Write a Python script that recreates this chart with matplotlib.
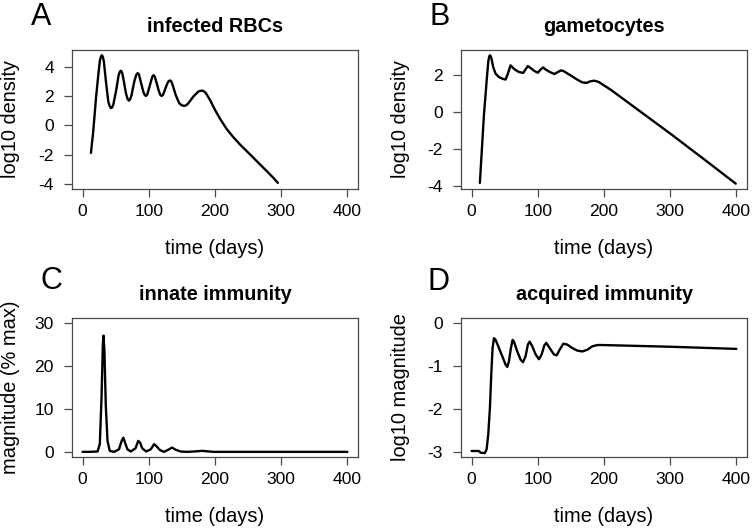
import matplotlib
matplotlib.use("Agg")
import matplotlib.pyplot as plt

plt.rcParams['font.family'] = ['Liberation Sans', 'DejaVu Sans']

# ---- Data ----
rbc_days = [12.6, 16.1, 20.2, 23.7, 26.2, 27.8, 29.2, 30.6, 32.2, 35.3, 38.8, 41.0, 42.8, 44.5,
            46.3, 50.4, 54.4, 56.5, 58.0, 59.6, 61.5, 65.5, 68.0, 70.0, 72.0, 74.0, 78.0, 81.0,
            83.1, 85.0, 87.2, 91.7, 93.8, 95.7, 97.6, 99.7, 103.8, 105.6, 107.3, 109.2, 111.3,
            115.4, 117.4, 119.4, 121.4, 123.4, 128.0, 130.0, 132.0, 134.0, 136.0, 140.6, 146.0,
            149.5, 153.0, 156.5, 159.7, 167.3, 174.8, 178.0, 181.4, 184.0, 186.4, 192.4, 200.0,
            207.6, 217.6, 227.7, 237.8, 247.9, 257.9, 268.0, 278.0, 288.0, 295.0]
rbc_vals = [-1.88, -0.41, 1.85, 3.44, 4.45, 4.72, 4.79, 4.68, 4.34, 2.98, 1.63, 1.30, 1.18, 1.22,
            1.40, 2.31, 3.43, 3.68, 3.73, 3.62, 3.21, 2.19, 1.80, 1.69, 1.80, 2.08, 2.98, 3.45,
            3.57, 3.50, 3.10, 2.30, 2.08, 2.01, 2.10, 2.42, 3.10, 3.35, 3.43, 3.32, 2.98,
            2.31, 2.08, 2.01, 2.08, 2.31, 2.87, 3.02, 3.07, 3.00, 2.76, 2.08, 1.51,
            1.38, 1.33, 1.37, 1.51, 1.97, 2.31, 2.36, 2.37, 2.30, 2.19, 1.74, 1.06,
            0.45, -0.25, -0.81, -1.31, -1.76, -2.21, -2.67, -3.12, -3.58, -3.93]

gam_days = [12.5, 18.6, 22.6, 25.1, 26.5, 27.6, 28.8, 30.1, 32.6, 36.2, 41.2, 46.2, 51.3, 54.8,
            58.8, 61.3, 64.9, 71.4, 78.0, 81.5, 85.0, 89.0, 95.0, 100.1, 104.1, 108.1, 111.6,
            118.2, 125.2, 130.3, 135.3, 139.3, 149.4, 159.4, 167.0, 173.5, 179.6, 185.6, 192.1,
            199.7, 209.8, 250.0, 300.0, 350.0, 399.0]
gam_vals = [-3.84, -0.18, 1.62, 2.70, 2.98, 3.06, 3.02, 2.88, 2.43, 2.07, 1.89, 1.80, 1.75, 2.07,
            2.52, 2.43, 2.30, 2.16, 2.11, 2.30, 2.48, 2.38, 2.21, 2.12, 2.29, 2.41, 2.30,
            2.16, 2.05, 2.16, 2.25, 2.20, 1.98, 1.75, 1.60, 1.57, 1.66, 1.69, 1.62,
            1.44, 1.21, 0.15, -1.17, -2.53, -3.88]

inn_days = [0, 10, 22.6, 26.0, 28.6, 30.6, 31.6, 33.0, 35.0, 37.6, 41.0, 47.6, 55.0, 59.0, 61.6,
            64.0, 67.7, 72.7, 80.0, 84.0, 86.7, 90.0, 96.0, 103.0, 108.0, 111.0, 117.0, 123.0,
            130.0, 135.0, 140.0, 148.0, 158.0, 170.0, 180.0, 190.0, 198.0, 300.0, 400.0]
inn_vals = [0, 0, 0.08, 1.8, 12.6, 25.0, 27.1, 23.4, 11.0, 2.6, 0.23, 0, 0.6, 2.55, 3.3,
            2.2, 0.6, 0.08, 0.85, 2.55, 2.2, 0.85, 0.08, 0.6, 1.8, 1.4, 0.4, 0,
            0.54, 1.0, 0.54, 0.08, 0, 0.1, 0.23, 0.1, 0, 0, 0]

acq_days = [0, 11.0, 13.6, 20.0, 22.7, 25.2, 27.7, 29.7, 31.7, 33.8, 36.3, 41.3, 46.3, 51.4, 53.9,
            56.4, 59.4, 62.0, 64.0, 69.0, 74.0, 77.6, 81.6, 85.0, 87.7, 91.7, 96.7, 101.8,
            105.8, 109.8, 112.8, 117.9, 124.4, 128.5, 133.0, 138.5, 144.6, 152.1, 159.7,
            167.3, 174.8, 182.4, 190.0, 197.5, 300.0, 400.0]
acq_vals = [-2.98, -2.98, -3.02, -3.03, -2.94, -2.59, -1.97, -1.20, -0.58, -0.35, -0.39, -0.58,
            -0.77, -0.97, -1.02, -0.89, -0.58, -0.39, -0.43, -0.66, -0.85, -0.91, -0.77, -0.50,
            -0.43, -0.54, -0.73, -0.84, -0.73, -0.52, -0.46, -0.58, -0.73, -0.75, -0.62,
            -0.48, -0.50, -0.58, -0.64, -0.66, -0.62, -0.54, -0.51, -0.51, -0.55, -0.60]

titles = ["infected RBCs", "gametocytes", "innate immunity", "acquired immunity"]
ylabels = ["log10 density", "log10 density", "magnitude (% max)", "log10 magnitude"]
letters = ["A", "B", "C", "D"]
xticks = [0, 100, 200, 300, 400]
yticks_list = [[-4, -2, 0, 2, 4], [-4, -2, 0, 2], [0, 10, 20, 30], [-3, -2, -1, 0]]
ylims = [(-4.35, 5.15), (-4.17, 3.35), (-1.2, 31.2), (-3.12, 0.12)]

series = [(rbc_days, rbc_vals), (gam_days, gam_vals), (inn_days, inn_vals), (acq_days, acq_vals)]

W, H = 754, 529
fig = plt.figure(figsize=(W / 100, H / 100), dpi=100)

# axes pixel boxes (left, top, right, bottom)
boxes = [(72, 50, 358, 189), (461, 50, 747, 189), (72, 318, 358, 457), (461, 318, 747, 457)]
letter_pos = [(31, 25), (429, 25), (41, 289), (428, 290)]

spine_col = '#4a4a4a'
for i in range(4):
    l, t, r, b = boxes[i]
    ax = fig.add_axes([l / W, 1 - b / H, (r - l) / W, (b - t) / H])
    x, y = series[i]
    ax.plot(x, y, color='black', lw=1.7, solid_joinstyle='round', solid_capstyle='round')
    ax.set_xlim(-16, 416)
    ax.set_ylim(*ylims[i])
    ax.set_xticks(xticks)
    ax.set_yticks(yticks_list[i])
    ax.set_xticklabels([str(v) for v in xticks])
    ax.set_yticklabels([str(v) for v in yticks_list[i]])
    for s in ax.spines.values():
        s.set_color(spine_col)
        s.set_linewidth(0.9)
    ax.tick_params(axis='both', direction='out', length=6, width=0.9, color=spine_col,
                   labelsize=12.6, labelcolor='black')
    ax.tick_params(axis='x', pad=4.5)
    ax.tick_params(axis='y', pad=7)
    ax.set_xlabel("time (days)", fontsize=14.4)
    ax.xaxis.set_label_coords(0.5, -59 / (b - t))
    ax.xaxis.label.set_va('center')
    ax.set_ylabel(ylabels[i], fontsize=14.4)
    ax.yaxis.set_label_coords(-61 / (r - l), 0.5)
    ax.yaxis.label.set_va('center')
    ax.text(0.5, 1 + 18.5 / (b - t), titles[i], transform=ax.transAxes, ha='center',
            va='baseline', fontsize=14.3, fontweight='bold')
    lx, ly = letter_pos[i]
    fig.text(lx / W, 1 - ly / H, letters[i], ha='left', va='baseline', fontsize=22)

fig.savefig("out.png", dpi=100)
